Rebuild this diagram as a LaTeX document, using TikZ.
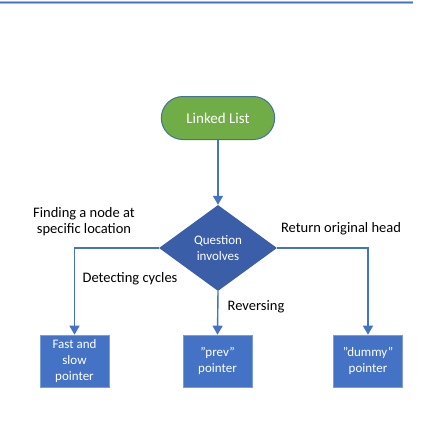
\documentclass[tikz,border=0pt]{standalone}
\usepackage{fontspec}
\setmainfont{Carlito}
\usetikzlibrary{shapes.geometric,shapes.misc,arrows.meta}
\definecolor{lineblue}{HTML}{4472C4}
\definecolor{boxblue}{HTML}{4472C4}
\definecolor{diablue}{HTML}{3A5EA8}
\definecolor{termgreen}{HTML}{70AD47}
\definecolor{termborder}{HTML}{41719C}
\tikzset{
  conn/.style={draw=lineblue, line width=1.4pt, -{Triangle[width=10pt,length=9pt]}},
  procbox/.style={rectangle, fill=boxblue, draw=boxblue!70!white, line width=0.6pt, minimum width=69pt, minimum height=52pt, text=white, align=center, font=\fontsize{13}{16}\selectfont, inner sep=1pt},
  lbl/.style={font=\fontsize{14.5}{16}\selectfont, align=center, text=black}
}
\begin{document}
\begin{tikzpicture}[x=1pt,y=-1pt]
\useasboundingbox (0,0) rectangle (434,445);
\draw[lineblue!50!white, line width=3pt] (0,2.5) -- (413,2.5);
\draw[lineblue, line width=1.3pt] (0,2.5) -- (413,2.5);
\node[rounded rectangle, fill=termgreen, draw=termborder, line width=1pt, minimum width=120pt, minimum height=43pt, text=white, font=\fontsize{15}{16}\selectfont] (start) at (218,118) {Linked List};
\node[diamond, fill=diablue, minimum width=118pt, minimum height=86pt, inner sep=0pt, text=white, align=center, font=\fontsize{13}{16}\selectfont] (q) at (218,248) {Question\\involves};
\node[procbox] (fast) at (74.5,361) {Fast and\\slow\\pointer};
\node[procbox] (prev) at (217.5,361) {"prev"\\pointer};
\node[procbox] (dummy) at (368,361) {"dummy"\\pointer};
\draw[conn] (start.south) -- (q.north);
\draw[conn] (q.west) -| (fast.north);
\draw[conn] (q.south) -- (prev.north);
\draw[conn] (q.east) -| (dummy.north);
\node[lbl] (l1) at (84,221.5) {Finding a node at\\specific location};
\node[lbl] (l2) at (341,228.5) {Return original head};
\node[lbl] (l3) at (130,278.5) {Detecting cycles};
\node[lbl] (l4) at (256,306.5) {Reversing};
\end{tikzpicture}
\end{document}
